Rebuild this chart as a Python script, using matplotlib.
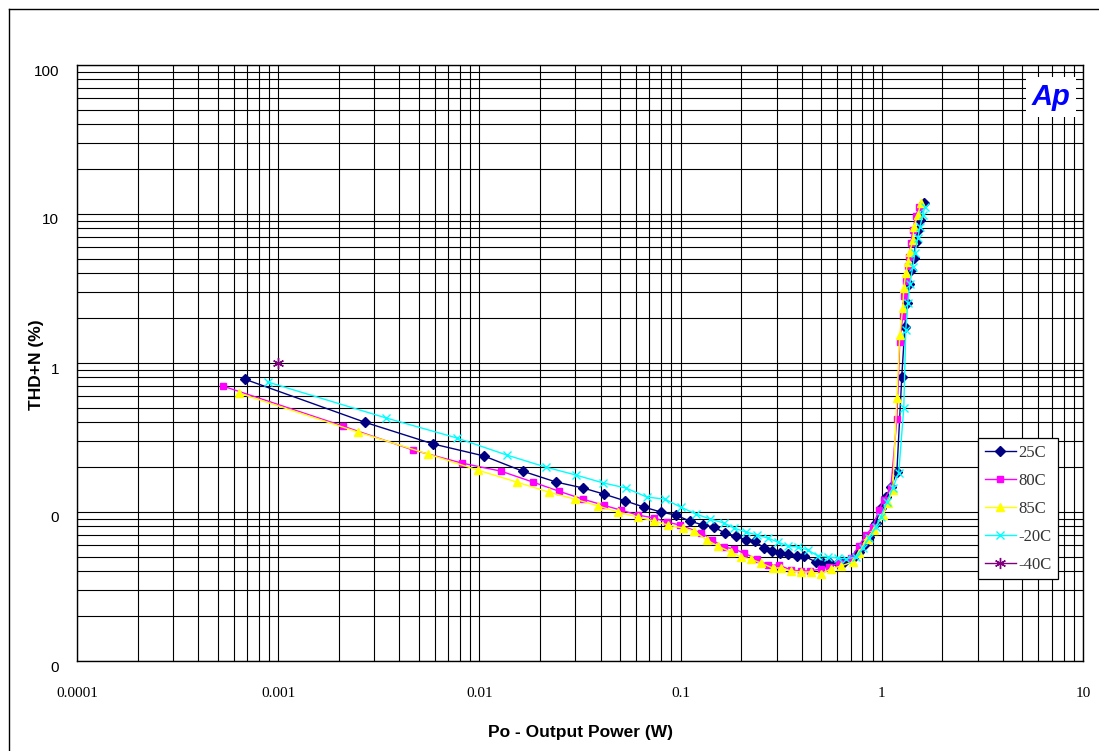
import matplotlib
matplotlib.use("Agg")
import matplotlib.pyplot as plt
from matplotlib.lines import Line2D
from matplotlib.transforms import ScaledTranslation

# ── data ──────────────────────────────────────────────────────────────────────
x_25c = [0.00068, 0.0027, 0.0059, 0.0105, 0.0164, 0.024, 0.0327, 0.0415, 0.0528,
         0.0656, 0.0797, 0.0946, 0.111, 0.129, 0.146, 0.166, 0.188, 0.211, 0.234,
         0.259, 0.284, 0.311, 0.341, 0.378, 0.41, 0.47, 0.509, 0.552, 0.605, 0.648,
         0.718, 0.769, 0.814, 0.862, 0.933, 0.989, 1.047, 1.109, 1.188, 1.257,
         1.301, 1.331, 1.362, 1.394, 1.443, 1.476, 1.51, 1.545, 1.618]
y_25c = [0.78, 0.40, 0.286, 0.238, 0.188, 0.159, 0.145, 0.132, 0.119, 0.108, 0.100,
         0.0954, 0.087, 0.0818, 0.0793, 0.0723, 0.069, 0.0649, 0.0639, 0.0574,
         0.0547, 0.0531, 0.0523, 0.0507, 0.0507, 0.0462, 0.0455, 0.0455, 0.0455,
         0.0462, 0.0491, 0.0539, 0.0601, 0.068, 0.0844, 0.106, 0.126, 0.147, 0.185,
         0.805, 1.745, 2.53, 3.39, 4.21, 5.07, 6.49, 7.81, 9.12, 11.85]

x_80c = [0.000531, 0.00209, 0.00466, 0.00818, 0.0128, 0.0184, 0.0248, 0.0327, 0.0415,
         0.0504, 0.0613, 0.0736, 0.0854, 0.099, 0.127, 0.144, 0.164, 0.184, 0.206,
         0.239, 0.271, 0.308, 0.353, 0.396, 0.439, 0.497, 0.545, 0.611, 0.701, 0.769,
         0.833, 0.902, 0.966, 1.023, 1.109, 1.188, 1.228, 1.271, 1.286, 1.316, 1.346,
         1.362, 1.394, 1.426, 1.476, 1.527]
y_80c = [0.70, 0.378, 0.261, 0.213, 0.188, 0.159, 0.138, 0.122, 0.111, 0.103, 0.0954,
         0.0912, 0.0857, 0.0818, 0.0723, 0.0649, 0.0582, 0.0565, 0.0531, 0.0484,
         0.0441, 0.0441, 0.0408, 0.0402, 0.0402, 0.0414, 0.0428, 0.0455, 0.0491,
         0.0591, 0.0701, 0.0793, 0.103, 0.120, 0.145, 0.421, 1.38, 2.07, 2.82, 3.55,
         4.48, 5.15, 6.39, 7.81, 9.70, 11.1]

x_85c = [0.000637, 0.00249, 0.00554, 0.00982, 0.0153, 0.0221, 0.0298, 0.0388, 0.0487,
         0.0613, 0.0736, 0.0863, 0.1025, 0.116, 0.135, 0.153, 0.178, 0.199, 0.223,
         0.25, 0.287, 0.315, 0.353, 0.396, 0.444, 0.497, 0.558, 0.625, 0.718, 0.769,
         0.842, 0.912, 1.012, 1.071, 1.134, 1.188, 1.228, 1.271, 1.286, 1.316, 1.346,
         1.378, 1.426, 1.443, 1.51, 1.563]
y_85c = [0.629, 0.344, 0.245, 0.191, 0.159, 0.136, 0.122, 0.110, 0.100, 0.0925, 0.087,
         0.0818, 0.0781, 0.0745, 0.0649, 0.0591, 0.0539, 0.0499, 0.0484, 0.0455,
         0.0421, 0.0421, 0.0402, 0.0396, 0.0396, 0.0384, 0.0414, 0.0434, 0.0462,
         0.0531, 0.0659, 0.0757, 0.0954, 0.115, 0.141, 0.582, 1.54, 2.34, 3.19, 4.02,
         4.76, 5.56, 6.69, 8.18, 9.85, 11.85]

x_m20c = [0.000888, 0.00343, 0.00772, 0.0137, 0.0214, 0.0302, 0.041, 0.0534, 0.0679,
          0.0834, 0.1, 0.119, 0.14, 0.164, 0.184, 0.211, 0.239, 0.271, 0.304, 0.341,
          0.383, 0.429, 0.481, 0.539, 0.605, 0.662, 0.743, 0.805, 0.862, 0.933, 0.989,
          1.059, 1.134, 1.214, 1.286, 1.316, 1.346, 1.378, 1.426, 1.459, 1.51, 1.545,
          1.6, 1.636]
y_m20c = [0.745, 0.428, 0.314, 0.241, 0.200, 0.177, 0.157, 0.145, 0.126, 0.122, 0.108,
          0.097, 0.0898, 0.0844, 0.0781, 0.0734, 0.0701, 0.0669, 0.0629, 0.0591,
          0.0582, 0.0556, 0.0507, 0.0499, 0.0491, 0.0484, 0.0499, 0.0574, 0.0669,
          0.0793, 0.0925, 0.117, 0.145, 0.183, 0.499, 1.67, 2.53, 3.39, 4.41, 5.47,
          6.90, 8.18, 9.85, 11.1]

x_m40c = [0.001]
y_m40c = [1.0]

x_ticks = [0.0001, 0.001, 0.01, 0.1, 1, 10]
x_tick_labels = ["0.0001", "0.001", "0.01", "0.1", "1", "10"]
y_ticks = [0.01, 0.1, 1, 10, 100]
y_tick_labels = ["0", "0", "1", "10", "100"]

# ── plot ──────────────────────────────────────────────────────────────────────
W, H = 1099, 751
fig = plt.figure(figsize=(W / 100, H / 100), dpi=100)
ax = fig.add_axes([77 / W, 1 - 661 / H, (1083 - 77) / W, (661 - 65) / H])

ax.set_xscale("log")
ax.set_yscale("log")
ax.set_xlim(1e-4, 10)
ax.set_ylim(1e-2, 100)

ax.grid(True, which="both", color="black", linewidth=0.8, zorder=0)
ax.set_axisbelow(True)

series = [
    (x_25c, y_25c, "25C", "#000080", "D", 5, "#000080"),
    (x_80c, y_80c, "80C", "#FF00FF", "s", 5, "#FF00FF"),
    (x_85c, y_85c, "85C", "#FFFF00", "^", 6, "#FFFF00"),
    (x_m20c, y_m20c, "-20C", "#00FFFF", "x", 6, "#00FFFF"),
    (x_m40c, y_m40c, "-40C", "#800080", (6, 2, 0), 8, "#800080"),
]
for xs, ys, lab, col, mk, ms, mc in series:
    ax.plot(xs, ys, color=col, linewidth=1.0, marker=mk, markersize=ms,
            markerfacecolor=mc, markeredgecolor=mc, markeredgewidth=1.0,
            label=lab, zorder=3)

ax.set_xticks(x_ticks)
ax.set_xticklabels(x_tick_labels, fontfamily="Liberation Serif", fontsize=11)
ax.set_yticks(y_ticks)
ax.set_yticklabels(y_tick_labels, fontfamily="Liberation Sans", fontsize=11)
ax.xaxis.set_minor_formatter(plt.NullFormatter())
ax.yaxis.set_minor_formatter(plt.NullFormatter())
ax.tick_params(which="both", length=0)
ax.tick_params(axis="x", pad=19)
ax.tick_params(axis="y", pad=13)
shift = ScaledTranslation(0, -5 / 100, fig.dpi_scale_trans)
for lbl in ax.get_yticklabels():
    lbl.set_transform(lbl.get_transform() + shift)

for sp in ax.spines.values():
    sp.set_color("black")
    sp.set_linewidth(1.0)

fig.text(580 / W, 1 - 733 / H, "Po - Output Power (W)", ha="center", va="center",
         fontfamily="Liberation Sans", fontweight="bold", fontsize=12.5)
fig.text(37 / W, 1 - 365 / H, "THD+N (%)", ha="center", va="center", rotation=90,
         fontfamily="Liberation Sans", fontweight="bold", fontsize=12.5)

leg = ax.legend(loc="upper left", bbox_to_anchor=(978 / W, 1 - 438 / H),
                bbox_transform=fig.transFigure, borderaxespad=0, frameon=True,
                fancybox=False, framealpha=1, edgecolor="black",
                prop={"family": "Liberation Serif", "size": 12},
                handlelength=1.85, handletextpad=0.15, labelspacing=0.72,
                borderpad=0.4)
leg.get_frame().set_linewidth(0.9)
for t in leg.get_texts():
    t.set_color("#333333")

# "Ap" badge in the upper right corner
ax.text(1051 / W, 1 - 97 / H, "Ap", transform=fig.transFigure, ha="center",
        va="center", fontfamily="Liberation Sans", fontweight="bold",
        fontstyle="italic", fontsize=21, color="#0000FF", zorder=5,
        bbox=dict(facecolor="white", edgecolor="none", pad=4))

# outer frame (left and top edges)
fig.add_artist(Line2D([8.5 / W, 8.5 / W], [0, 1 - 8.5 / H], transform=fig.transFigure,
                      color="black", linewidth=1.0))
fig.add_artist(Line2D([8.5 / W, 1], [1 - 8.5 / H, 1 - 8.5 / H], transform=fig.transFigure,
                      color="black", linewidth=1.0))

fig.savefig("out.png", dpi=100)
